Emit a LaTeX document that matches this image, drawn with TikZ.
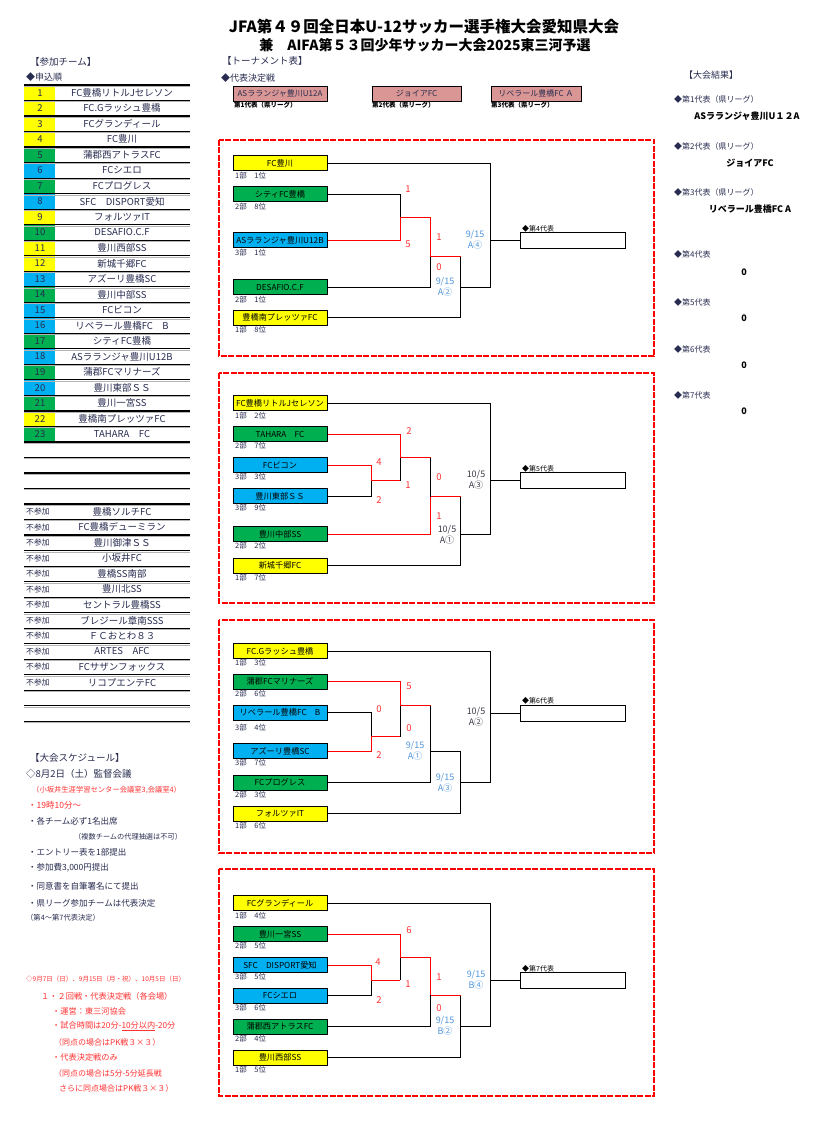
\documentclass[tikz,border=0pt]{standalone}
\usepackage{fontspec}
\setmainfont{Noto Sans CJK JP}
\usetikzlibrary{calc}
\definecolor{cyel}{RGB}{255,255,0}
\definecolor{cgrn}{RGB}{0,176,80}
\definecolor{cblu}{RGB}{0,176,240}
\definecolor{cpnk}{RGB}{218,150,148}
\definecolor{ctxt}{RGB}{40,44,80}
\definecolor{cscr}{RGB}{255,50,50}
\definecolor{cdtb}{RGB}{80,150,220}
\definecolor{cdtk}{RGB}{60,60,75}
\definecolor{cfrm}{RGB}{255,0,0}
\definecolor{cshd}{RGB}{180,180,180}
\newcommand\myfs[1]{\fontsize{#1}{#1}\selectfont}
\begin{document}
\begin{tikzpicture}[x=1pt,y=-1pt,
  every node/.style={inner sep=0pt,text=ctxt},
  tb/.style={draw=black,line width=1pt,minimum width=94pt,minimum height=15pt,inner sep=0pt,font=\myfs{8.2},text=black},
  rb/.style={draw=black,line width=0.9pt,minimum width=105pt,minimum height=16pt,fill=white},
  pk/.style={draw=black,line width=0.9pt,minimum height=15pt,fill=cpnk,font=\myfs{8},text=ctxt},
  pkl/.style={anchor=west,font=\bfseries\myfs{6.5},text=black},
  sub/.style={anchor=west,font=\myfs{7.5},text=ctxt},
  sc/.style={font=\myfs{9.5},text=cscr},
  dtblue/.style={font=\myfs{9},text=cdtb,align=center},
  dtdark/.style={font=\myfs{9},text=cdtk,align=center},
  bl/.style={draw=black,line width=0.8pt},
  rd/.style={draw=cfrm,line width=0.8pt},
  frame/.style={draw=cfrm,line width=2pt,dash pattern=on 6pt off 1.5pt},
  repl/.style={anchor=west,font=\myfs{7},text=black},
  hd/.style={anchor=west,font=\myfs{9.5},text=ctxt},
  hs/.style={anchor=west,font=\myfs{9},text=ctxt},
  num/.style={font=\myfs{9.5},text=ctxt},
  tn/.style={font=\myfs{9.5},text=ctxt},
  np/.style={anchor=west,font=\myfs{7.8},text=ctxt},
  sk/.style={anchor=west,font=\myfs{8.5},text=ctxt},
  skr/.style={anchor=west,font=\myfs{8.5},text=cscr},
  rs/.style={anchor=west,font=\myfs{8},text=ctxt},
  rn/.style={font=\bfseries\myfs{9},text=black}]
\useasboundingbox (0,0) rectangle (816,1131);
\fill[white] (0,0) rectangle (816,1131);

% ---------- titles ----------
\node[font=\bfseries\myfs{15.5},text=black] (title1) at (424,27) {JFA第４９回全日本U-12サッカー選手権大会愛知県大会};
\node[font=\bfseries\myfs{14},text=black] (title2) at (425,45) {兼　AIFA第５３回少年サッカー大会2025東三河予選};

% ---------- left: teams ----------
\node[hd] (hteams) at (30,62) {【参加チーム】};
\node[hs] (horder) at (26,77) {◆申込順};

\foreach \i/\c/\n in {1/cyel/FC豊橋リトルJセレソン,2/cyel/FC.Gラッシュ豊橋,3/cyel/FCグランディール,4/cyel/FC豊川,5/cgrn/蒲郡西アトラスFC,6/cblu/FCシエロ,7/cgrn/FCプログレス,8/cblu/SFC　DISPORT愛知,9/cyel/フォルツァIT,10/cgrn/DESAFIO.C.F,11/cyel/豊川西部SS,12/cyel/新城千郷FC,13/cblu/アズーリ豊橋SC,14/cgrn/豊川中部SS,15/cblu/FCビコン,16/cblu/リベラール豊橋FC　B,17/cgrn/シティFC豊橋,18/cblu/ASラランジャ豊川U12B,19/cgrn/蒲郡FCマリナーズ,20/cblu/豊川東部ＳＳ,21/cgrn/豊川一宮SS,22/cyel/豊橋南プレッツァFC,23/cgrn/TAHARA　FC}{
  \pgfmathsetmacro\yt{85+(\i-1)*15.52}
  \pgfmathsetmacro\yb{85+\i*15.52}
  \pgfmathsetmacro\yc{85+(\i-0.5)*15.52}
  \fill[\c] (24,\yt) rectangle (55,\yb);
  \node[num] (num\i) at (40,\yc) {\i};
  \node[tn] (team\i) at (122,\yc) {\n};
}
\foreach \i/\n in {28/豊橋ソルチFC,29/FC豊橋デューミラン,30/豊川御津ＳＳ,31/小坂井FC,32/豊橋SS南部,33/豊川北SS,34/セントラル豊橋SS,35/ブレジール章南SSS,36/ＦＣおとわ８３,37/ARTES　AFC,38/FCサザンフォックス,39/リコプエンテFC}{
  \pgfmathsetmacro\yc{85+(\i-0.5)*15.52}
  \node[np] (np\i) at (26,\yc) {不参加};
  \node[tn] (npt\i) at (122,\yc) {\n};
}
\foreach \k in {0,...,41}{
  \pgfmathsetmacro\yl{85+\k*15.52}
  \draw[cshd,line width=0.8pt] (24,\yl+1.3) -- (190,\yl+1.3);
  \draw[black,line width=1.2pt] (24,\yl) -- (190,\yl);
}

% ---------- schedule ----------
\node[hd] (hsch) at (30,758) {【大会スケジュール】};
\node[anchor=west,font=\myfs{9.5},text=ctxt] (s1) at (26,774) {◇8月2日（土）監督会議};
\node[anchor=west,font=\myfs{7.3},text=cscr] (s2) at (32,790) {（小坂井生涯学習センター会議室3,会議室4）};
\node[skr] (s3) at (28,805) {・19時10分〜};
\node[sk] (s4) at (28,821) {・各チーム必ず1名出席};
\node[anchor=west,font=\myfs{7.2},text=ctxt] (s5) at (74,837) {（複数チームの代理抽選は不可）};
\node[sk] (s6) at (28,852) {・エントリー表を1部提出};
\node[sk] (s7) at (28,868) {・参加費3,000円提出};
\node[sk] (s8) at (28,886) {・同意書を自筆署名にて提出};
\node[sk] (s9) at (28,903) {・県リーグ参加チームは代表決定};
\node[anchor=west,font=\myfs{7.3},text=ctxt] (s10) at (26,918) {（第4〜第7代表決定）};
\node[anchor=west,font=\myfs{6.5},text=cscr] (s11) at (26,979) {◇9月7日（日）、9月15日（月・祝）、10月5日（日）};
\node[anchor=west,font=\myfs{8.2},text=cscr] (s12) at (41,996) {１・２回戦・代表決定戦（各会場）};
\node[anchor=west,font=\myfs{8.2},text=cscr] (s13) at (52,1011) {・運営：東三河協会};
\node[anchor=west,font=\myfs{8.2},text=cscr] (s14) at (52,1026) {・試合時間は20分-\underline{10分以内}-20分};
\node[anchor=west,font=\myfs{8},text=cscr] (s15) at (54,1042) {（同点の場合はPK戦３×３）};
\node[anchor=west,font=\myfs{8.2},text=cscr] (s16) at (52,1057) {・代表決定戦のみ};
\node[anchor=west,font=\myfs{8},text=cscr] (s17) at (54,1073) {（同点の場合は5分-5分延長戦};
\node[anchor=west,font=\myfs{8},text=cscr] (s18) at (59,1088) {さらに同点場合はPK戦３×３）};

% ---------- tournament header ----------
\node[hd] (htour) at (222,61) {【トーナメント表】};
\node[hs] (hrep) at (221,78) {◆代表決定戦};
\node[pk,minimum width=94pt] (rep1) at (280,93.5) {ASラランジャ豊川U12A};
\node[pk,minimum width=89pt] (rep2) at (416.5,93.5) {ジョイアFC};
\node[pk,minimum width=90pt] (rep3) at (536,93.5) {リベラール豊橋FC Ａ};
\node[pkl] (rep1l) at (234,105) {第1代表（県リーグ）};
\node[pkl] (rep2l) at (372,105) {第2代表（県リーグ）};
\node[pkl] (rep3l) at (491,105) {第3代表（県リーグ）};

% ---------- frames ----------
\draw[frame] (219,140) rectangle (654,356);
\draw[frame] (219,373) rectangle (654,603);
\draw[frame] (219,620) rectangle (654,853);
\draw[frame] (219,869) rectangle (654,1096);

% ---------- block 1 ----------
\node[tb,fill=cyel] (a1) at (280,163.3) {FC豊川};
\node[tb,fill=cgrn] (a2) at (280,194.3) {シティFC豊橋};
\node[tb,fill=cblu] (a3) at (280,240.3) {ASラランジャ豊川U12B};
\node[tb,fill=cgrn] (a4) at (280,287.3) {DESAFIO.C.F};
\node[tb,fill=cyel] (a5) at (280,317.7) {豊橋南プレッツァFC};
\node[sub] (a1s) at (235,175.3) {1部　1位};
\node[sub] (a2s) at (235,206.3) {2部　8位};
\node[sub] (a3s) at (235,252.3) {3部　1位};
\node[sub] (a4s) at (235,299.3) {2部　1位};
\node[sub] (a5s) at (235,329.7) {1部　8位};
\coordinate (aj2) at (400,217.7);
\coordinate (aj3) at (430.7,256.7);
\coordinate (aj4) at (460.7,287.3);
\coordinate (aj5) at (490,240.3);
\node[rb] (ar) at (572.5,240.3) {};
\node[repl] (arl) at (522,229) {◆第4代表};
\draw[bl] (a2.east) -| (aj2);
\draw[bl] (a4.east) -| (aj3);
\draw[bl] (aj3 -| aj4) -- (aj4);
\draw[bl] (a5.east) -| (aj4);
\draw[bl] (aj4) -- (aj4 -| aj5) -- (aj5);
\draw[bl] (a1.east) -| (aj5);
\draw[bl] (aj5) -- (ar.west);
\draw[rd] (a3.east) -| (aj2);
\draw[rd] (aj2) -- (aj2 -| aj3) -- (aj3);
\draw[rd] (aj3) -- (aj3 -| aj4);
\node[sc] (a2n) at (408,189) {1};
\node[sc] (a3n) at (408,244) {5};
\node[sc] (aw1) at (439,237) {1};
\node[sc] (aw2) at (439,267) {0};
\node[dtblue] (ad1) at (475,240) {9/15\\[1pt]A④};
\node[dtblue] (ad2) at (445,287) {9/15\\[1pt]A②};

% ---------- block 2 ----------
\node[tb,fill=cyel] (b1) at (280,403.3) {FC豊橋リトルJセレソン};
\node[tb,fill=cgrn] (b2) at (280,434) {TAHARA　FC};
\node[tb,fill=cblu] (b3) at (280,465) {FCビコン};
\node[tb,fill=cblu] (b4) at (280,496) {豊川東部ＳＳ};
\node[tb,fill=cgrn] (b5) at (280,534) {豊川中部SS};
\node[tb,fill=cyel] (b6) at (280,565.7) {新城千郷FC};
\node[sub] (b1s) at (235,415.3) {1部　2位};
\node[sub] (b2s) at (235,446) {2部　7位};
\node[sub] (b3s) at (235,477) {3部　3位};
\node[sub] (b4s) at (235,508) {3部　9位};
\node[sub] (b5s) at (235,546) {2部　2位};
\node[sub] (b6s) at (235,577.7) {1部　7位};
\coordinate (bj1) at (371,480.7);
\coordinate (bj2) at (400,457.3);
\coordinate (bj3) at (430.7,496.7);
\coordinate (bj4) at (460.7,534);
\coordinate (bj5) at (490,480);
\node[rb] (br) at (572.5,480) {};
\node[repl] (brl) at (522,469) {◆第5代表};
\draw[bl] (b4.east) -| (bj1);
\draw[bl] (bj1 -| bj2) -- (bj2);
\draw[bl] (bj2 -| bj3) -- (bj3);
\draw[bl] (bj3 -| bj4) -- (bj4);
\draw[bl] (b6.east) -| (bj4);
\draw[bl] (bj4) -- (bj4 -| bj5) -- (bj5);
\draw[bl] (b1.east) -| (bj5);
\draw[bl] (bj5) -- (br.west);
\draw[rd] (b3.east) -| (bj1);
\draw[rd] (bj1) -- (bj1 -| bj2);
\draw[rd] (b2.east) -| (bj2);
\draw[rd] (bj2) -- (bj2 -| bj3);
\draw[rd] (b5.east) -| (bj3);
\draw[rd] (bj3) -- (bj3 -| bj4);
\node[sc] (b2n) at (409,431) {2};
\node[sc] (b3n) at (379,462) {4};
\node[sc] (bw1) at (408,485) {1};
\node[sc] (b4n) at (379,500) {2};
\node[sc] (bw2) at (439,477) {0};
\node[sc] (b5n) at (439,516) {1};
\node[dtdark] (bd1) at (476,480) {10/5\\[1pt]A③};
\node[dtdark] (bd2) at (447,535) {10/5\\[1pt]A①};

% ---------- block 3 ----------
\node[tb,fill=cyel] (c1) at (280,651) {FC.Gラッシュ豊橋};
\node[tb,fill=cgrn] (c2) at (280,681.7) {蒲郡FCマリナーズ};
\node[tb,fill=cblu] (c3) at (280,712.7) {リベラール豊橋FC　B};
\node[tb,fill=cblu] (c4) at (280,751) {アズーリ豊橋SC};
\node[tb,fill=cgrn] (c5) at (280,782.7) {FCプログレス};
\node[tb,fill=cyel] (c6) at (280,813.7) {フォルツァIT};
\node[sub] (c1s) at (235,663) {1部　3位};
\node[sub] (c2s) at (235,693.7) {2部　6位};
\node[sub] (c3s) at (235,728) {3部　4位};
\node[sub] (c4s) at (235,763) {3部　7位};
\node[sub] (c5s) at (235,794.7) {2部　3位};
\node[sub] (c6s) at (235,825.7) {1部　6位};
\coordinate (cj1) at (371,736.7);
\coordinate (cj2) at (400,705);
\coordinate (cj3) at (430.7,751);
\coordinate (cj4) at (460.7,782.3);
\coordinate (cj5) at (490,713.7);
\node[rb] (cr) at (572.5,713.7) {};
\node[repl] (crl) at (522,701) {◆第6代表};
\draw[bl] (c3.east) -| (cj1);
\draw[bl] (cj1 -| cj2) -- (cj2);
\draw[bl] (cj2 -| cj3) -- (cj3);
\draw[bl] (c5.east) -| (cj3);
\draw[bl] (cj3) -- (cj3 -| cj4) -- (cj4);
\draw[bl] (c6.east) -| (cj4);
\draw[bl] (cj4) -- (cj4 -| cj5) -- (cj5);
\draw[bl] (c1.east) -| (cj5);
\draw[bl] (cj5) -- (cr.west);
\draw[rd] (c4.east) -| (cj1);
\draw[rd] (cj1) -- (cj1 -| cj2);
\draw[rd] (c2.east) -| (cj2);
\draw[rd] (cj2) -- (cj2 -| cj3);
\node[sc] (c2n) at (409,686) {5};
\node[sc] (c3n) at (379,709) {0};
\node[sc] (cw1) at (409,728) {0};
\node[sc] (c4n) at (379,755) {2};
\node[dtblue] (cd1) at (415,751) {9/15\\[1pt]A①};
\node[dtblue] (cd2) at (445,783) {9/15\\[1pt]A③};
\node[dtdark] (cd3) at (476,717) {10/5\\[1pt]A②};

% ---------- block 4 ----------
\node[tb,fill=cyel] (d1) at (280,903.3) {FCグランディール};
\node[tb,fill=cgrn] (d2) at (280,934) {豊川一宮SS};
\node[tb,fill=cblu] (d3) at (280,965) {SFC　DISPORT愛知};
\node[tb,fill=cblu] (d4) at (280,995.7) {FCシエロ};
\node[tb,fill=cgrn] (d5) at (280,1026.7) {蒲郡西アトラスFC};
\node[tb,fill=cyel] (d6) at (280,1057.7) {豊川西部SS};
\node[sub] (d1s) at (235,915.3) {1部　4位};
\node[sub] (d2s) at (235,946) {2部　5位};
\node[sub] (d3s) at (235,977) {3部　5位};
\node[sub] (d4s) at (235,1007.7) {3部　6位};
\node[sub] (d5s) at (235,1038.7) {2部　4位};
\node[sub] (d6s) at (235,1069.7) {1部　5位};
\coordinate (dj1) at (371,980);
\coordinate (dj2) at (400,957.3);
\coordinate (dj3) at (430.7,995);
\coordinate (dj4) at (460.7,1026.7);
\coordinate (dj5) at (490,980.3);
\node[rb] (dr) at (572.5,980.3) {};
\node[repl] (drl) at (522,969) {◆第7代表};
\draw[bl] (d4.east) -| (dj1);
\draw[bl] (dj1 -| dj2) -- (dj2);
\draw[bl] (d5.east) -| (dj3);
\draw[bl] (dj3 -| dj4) -- (dj4);
\draw[bl] (d6.east) -| (dj4);
\draw[bl] (dj4) -- (dj4 -| dj5) -- (dj5);
\draw[bl] (d1.east) -| (dj5);
\draw[bl] (dj5) -- (dr.west);
\draw[rd] (d3.east) -| (dj1);
\draw[rd] (dj1) -- (dj1 -| dj2);
\draw[rd] (d2.east) -| (dj2);
\draw[rd] (dj2) -- (dj2 -| dj3) -- (dj3);
\draw[rd] (dj3) -- (dj3 -| dj4);
\node[sc] (d2n) at (409,930) {6};
\node[sc] (d3n) at (378,962) {4};
\node[sc] (dw1) at (408,984) {1};
\node[sc] (d4n) at (379,1000) {2};
\node[sc] (dw2) at (439,977) {1};
\node[sc] (d5n) at (439,1008) {0};
\node[dtblue] (dd1) at (476,980) {9/15\\[1pt]B④};
\node[dtblue] (dd2) at (445,1026) {9/15\\[1pt]B②};

% ---------- results ----------
\node[anchor=west,font=\myfs{9},text=ctxt] (hres) at (684,75) {【大会結果】};
\node[rs] (r1) at (674,99) {◆第1代表（県リーグ）};
\node[rn] (r1n) at (747,116) {ASラランジャ豊川U１２A};
\node[rs] (r2) at (674,146) {◆第2代表（県リーグ）};
\node[rn] (r2n) at (750,163) {ジョイアFC};
\node[rs] (r3) at (674,192) {◆第3代表（県リーグ）};
\node[rn] (r3n) at (750,209) {リベラール豊橋FC A};
\node[rs] (r4) at (674,254) {◆第4代表};
\node[rn] (r4n) at (744,272) {0};
\node[rs] (r5) at (674,302) {◆第5代表};
\node[rn] (r5n) at (744,318) {0};
\node[rs] (r6) at (674,349) {◆第6代表};
\node[rn] (r6n) at (744,365) {0};
\node[rs] (r7) at (674,395) {◆第7代表};
\node[rn] (r7n) at (744,411) {0};
\end{tikzpicture}
\end{document}
